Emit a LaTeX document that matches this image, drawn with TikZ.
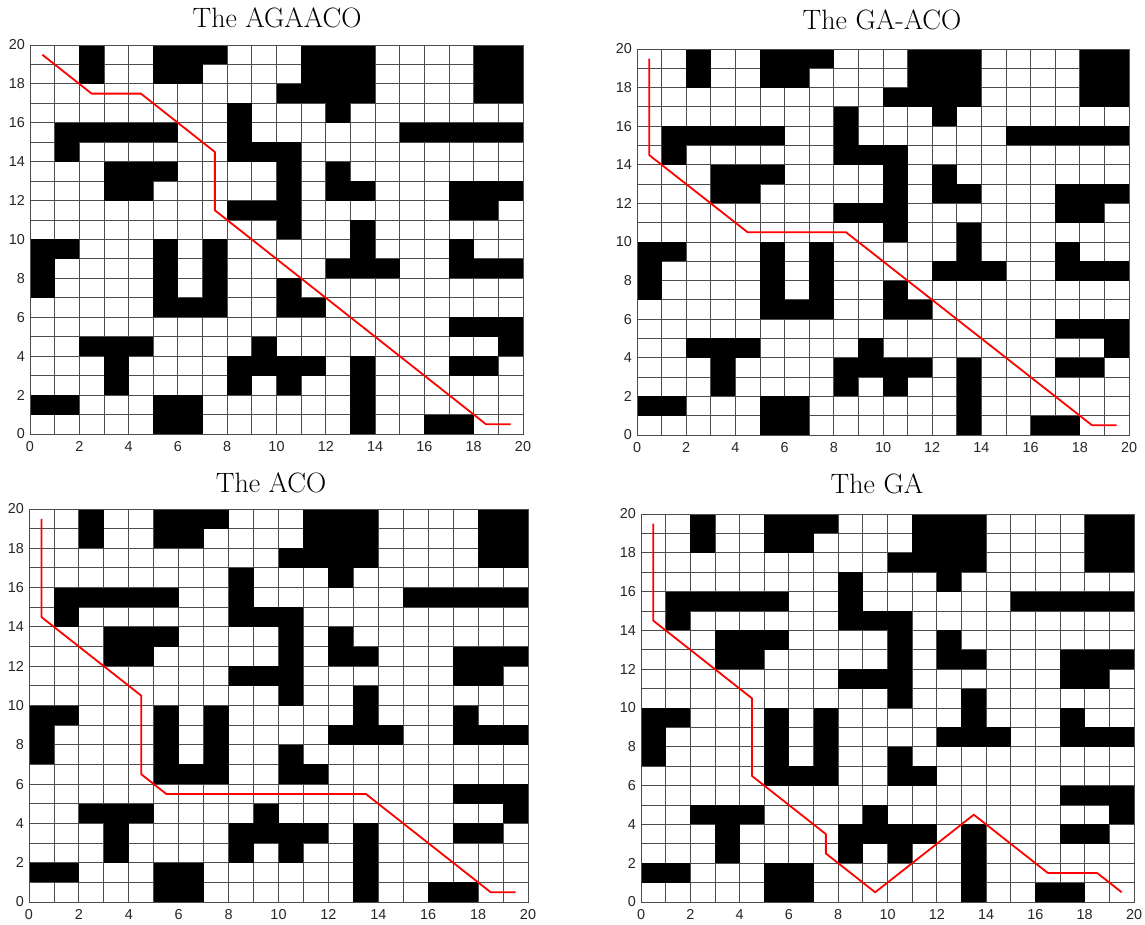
\documentclass[tikz,border=0pt]{standalone}
\usepackage{fontspec}
\newfontfamily\ticksfont{Liberation Sans}
\tikzset{
  gridline/.style={draw=black!70, line width=0.9pt},
  cellfill/.style={fill=black},
  redpath/.style={draw=red, line width=1.8pt, line join=round},
  ylab/.style={anchor=east, inner sep=0pt, xshift=-5pt, font=\ticksfont\fontsize{14.4}{16}\selectfont, text=black!85},
  xlab/.style={anchor=north, inner sep=0pt, yshift=-7pt, font=\ticksfont\fontsize{14.4}{16}\selectfont, text=black!85},
  title/.style={inner sep=0pt, font=\fontsize{28}{32}\selectfont}
}
\def\obst{2/19,5/19,6/19,7/19,11/19,12/19,13/19,18/19,19/19,
2/18,5/18,6/18,11/18,12/18,13/18,18/18,19/18,
10/17,11/17,12/17,13/17,18/17,19/17,
8/16,12/16,
1/15,2/15,3/15,4/15,5/15,8/15,15/15,16/15,17/15,18/15,19/15,
1/14,8/14,9/14,10/14,
3/13,4/13,5/13,10/13,12/13,
3/12,4/12,10/12,12/12,13/12,17/12,18/12,19/12,
8/11,9/11,10/11,17/11,18/11,
10/10,13/10,
0/9,1/9,5/9,7/9,13/9,17/9,
0/8,5/8,7/8,12/8,13/8,14/8,17/8,18/8,19/8,
0/7,5/7,7/7,10/7,
5/6,6/6,7/6,10/6,11/6,
17/5,18/5,19/5,
2/4,3/4,4/4,9/4,19/4,
3/3,8/3,9/3,10/3,11/3,13/3,17/3,18/3,
3/2,8/2,10/2,13/2,
0/1,1/1,5/1,6/1,13/1,
5/0,6/0,13/0,16/0,17/0}
% #1 x0, #2 Y of bottom, #3 cell width, #4 cell height, #5 prefix, #6 path
\newcommand\mygrid[6]{%
\begin{scope}[shift={(#1pt,#2pt)}, x=#3pt, y=#4pt]
  \foreach \k in {0,...,20} {
    \draw[gridline] (\k,0) -- (\k,20);
    \draw[gridline] (0,\k) -- (20,\k);
  }
  \foreach \c/\r in \obst {\fill[cellfill] (\c,\r) rectangle ++(1,1);}
  \draw[gridline] (0,0) rectangle (20,20);
  \foreach \v in {0,2,...,20} {
    \node[ylab] (#5y\v) at (0,\v) {\v};
    \node[xlab] (#5x\v) at (\v,0) {\v};
  }
  \draw[redpath] #6;
\end{scope}}
\begin{document}
\begin{tikzpicture}[x=1pt,y=1pt]
\useasboundingbox (0,0) rectangle (1145,924);
\fill[white] (0,0) rectangle (1145,924);
\mygrid{30}{490}{24.65}{19.45}{a}{(0.5,19.5) -- (2.5,17.5) -- (4.5,17.5) -- (7.5,14.5) -- (7.5,11.5) -- (18.5,0.5) -- (19.5,0.5)}
\mygrid{637}{489}{24.6}{19.3}{b}{(0.5,19.5) -- (0.5,14.5) -- (4.5,10.5) -- (8.5,10.5) -- (18.5,0.5) -- (19.5,0.5)}
\mygrid{29}{22}{24.95}{19.65}{c}{(0.5,19.5) -- (0.5,14.5) -- (4.5,10.5) -- (4.5,6.5) -- (5.5,5.5) -- (13.5,5.5) -- (18.5,0.5) -- (19.5,0.5)}
\mygrid{641}{22}{24.65}{19.4}{d}{(0.5,19.5) -- (0.5,14.5) -- (4.5,10.5) -- (4.5,6.5) -- (7.5,3.5) -- (7.5,2.5) -- (9.5,0.5) -- (13.5,4.5) -- (16.5,1.5) -- (18.5,1.5) -- (19.5,0.5)}
\node[title] (t1) at (277,906) {The AGAACO};
\node[title] (t2) at (882,904) {The GA-ACO};
\node[title] (t3) at (271,441) {The ACO};
\node[title] (t4) at (877,440) {The GA};
\end{tikzpicture}
\end{document}
